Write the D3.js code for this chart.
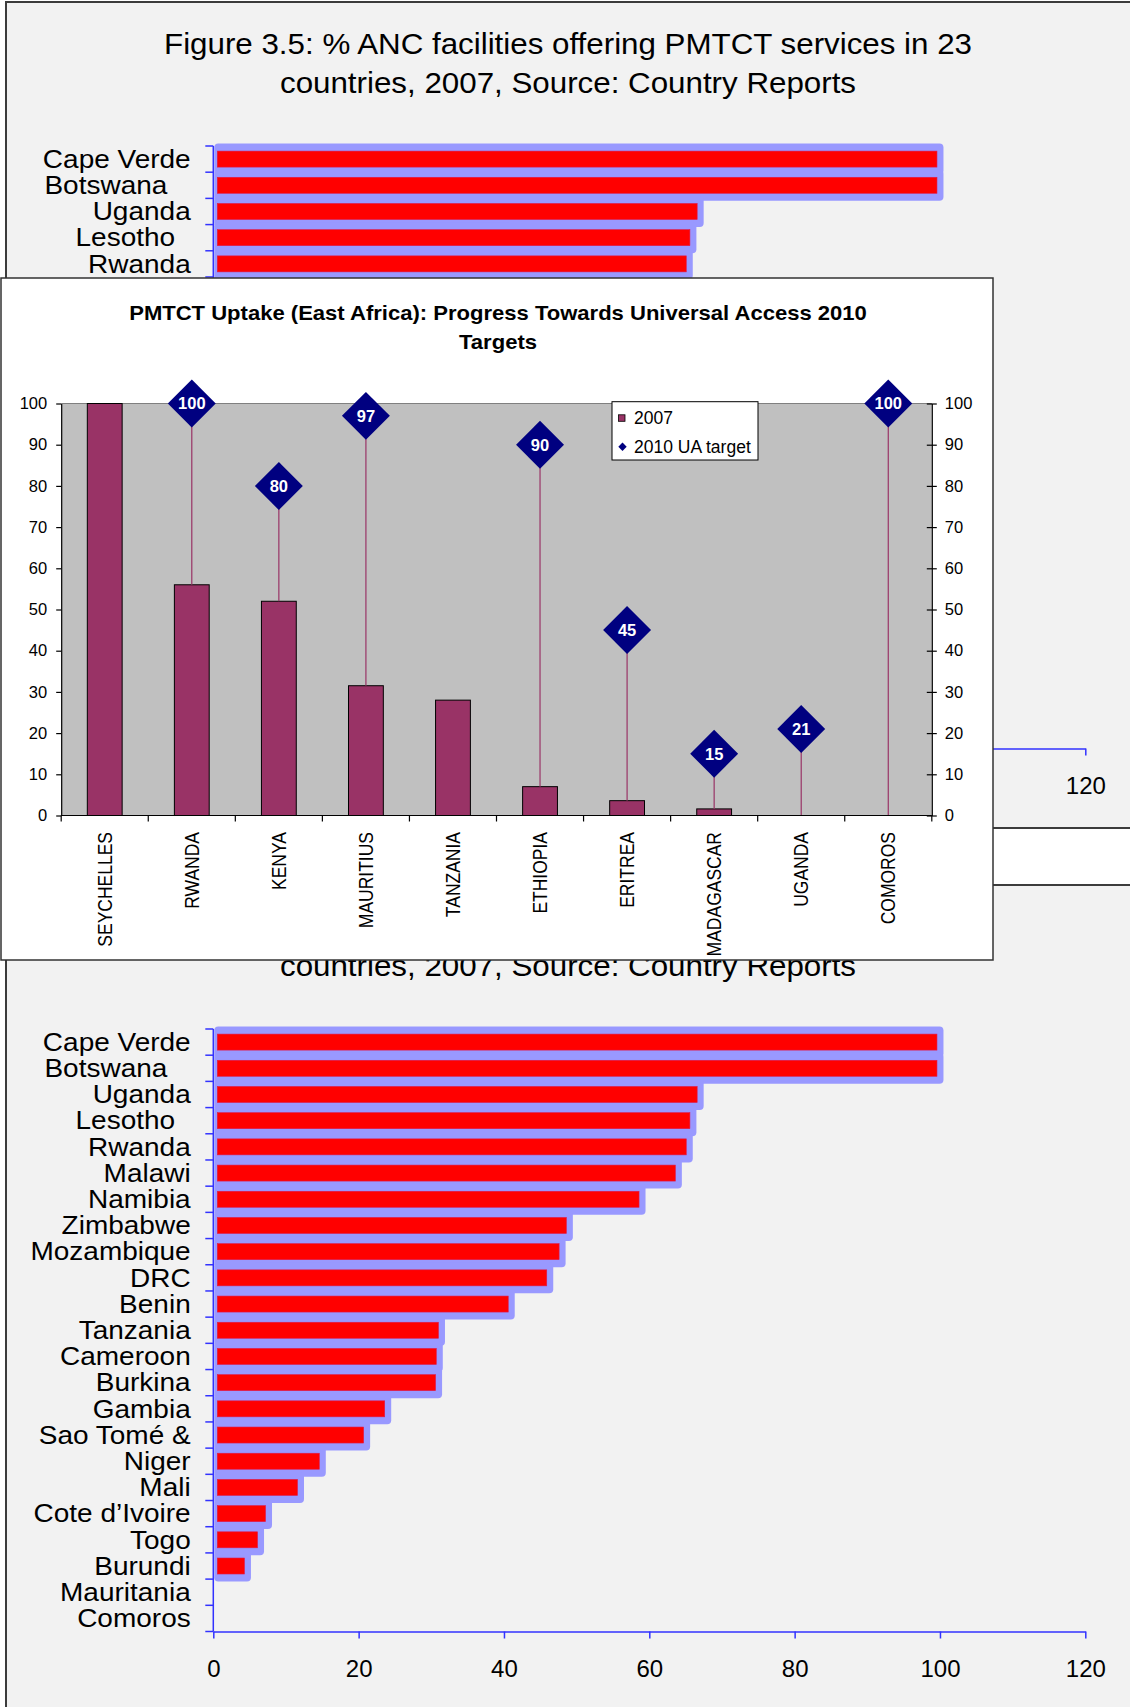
<!DOCTYPE html>
<html>
<head>
<meta charset="utf-8">
<script src="https://cdn.jsdelivr.net/npm/d3@7"></script>
<style>
  body { margin: 0; background: #fff; }
  svg { display: block; font-family: "Liberation Sans", Arial, sans-serif; }
</style>
</head>
<body>
<div id="chart"></div>
<script>
// Figure 3.5 (slide chart, the slide shows up twice behind the East Africa chart)
var figTitle = ["Figure 3.5: % ANC facilities offering PMTCT services in 23",
                "countries, 2007, Source: Country Reports"];
var ancCountries = ["Cape Verde", "Botswana\u00a0\u00a0\u00a0", "Uganda", "Lesotho\u00a0\u00a0", "Rwanda",
                    "Malawi", "Namibia", "Zimbabwe", "Mozambique", "DRC", "Benin", "Tanzania",
                    "Cameroon", "Burkina", "Gambia", "Sao Tomé &", "Niger", "Mali",
                    "Cote d\u2019Ivoire", "Togo", "Burundi", "Mauritania", "Comoros"];
var ancValues = [100, 100, 67, 66, 65.5, 64, 59, 49, 48, 46.3, 41, 31.4,
                 31.1, 31, 24, 21.1, 15, 12, 7.6, 6.5, 4.7, 0, 0];
var ancTicks = [0, 20, 40, 60, 80, 100, 120];

// PMTCT uptake, East Africa
var eaTitle = ["PMTCT Uptake (East Africa): Progress Towards Universal Access 2010", "Targets"];
var eaCountries = ["SEYCHELLES", "RWANDA", "KENYA", "MAURITIUS", "TANZANIA",
                   "ETHIOPIA", "ERITREA", "MADAGASCAR", "UGANDA", "COMOROS"];
var uptake2007 = [100, 56, 52, 31.5, 28, 7, 3.6, 1.6, 0, 0];
var target2010 = [null, 100, 80, 97, null, 90, 45, 15, 21, 100];
var eaTicks = [0, 10, 20, 30, 40, 50, 60, 70, 80, 90, 100];
var legendLabels = ["2007", "2010 UA target"];

var W = 1130, H = 1707;
var svg = d3.select("#chart").append("svg").attr("width", W).attr("height", H);

var axisBlue = "#3232ff";
// the pasted East Africa chart covers this area
var cover = {x0: 1, y0: 278, x1: 993, y1: 960};

// true if a text with this page-space box is not completely under the cover
function shows(left, top, right, bottom) {
  return left < cover.x0 || right > cover.x1 || top < cover.y0 || bottom > cover.y1;
}

function drawSlide(offsetY) {
  var g = svg.append("g").attr("transform", "translate(0," + offsetY + ")");

  g.append("rect")
      .attr("x", 6).attr("y", 2).attr("width", 1200).attr("height", 826)
      .attr("fill", "#f2f2f2").attr("stroke", "#3c3c3c").attr("stroke-width", 2);

  figTitle.forEach(function(t, i) {
    var by = 54 + i * 38.5;
    if (!shows(160, offsetY + by - 22, 976, offsetY + by + 6)) return;
    g.append("text")
        .attr("transform", "translate(568," + by + ") scale(1.08,1)")
        .attr("text-anchor", "middle")
        .style("font-size", "29px")
        .text(t);
  });

  var x = d3.scaleLinear().domain([0, 120]).range([213.3, 1085.3]);
  var y = d3.scaleBand().domain(d3.range(ancCountries.length)).range([146, 748.5]);
  var bh = 16;
  var bars = ancValues.map(function(v, i) { return {v: v, i: i}; })
      .filter(function(d) { return d.v > 0; });

  // lavender frame behind each bar
  g.append("g").selectAll("rect")
      .data(bars)
    .enter().append("rect")
      .attr("x", x(0) + 1)
      .attr("y", function(d) { return y(d.i) + y.bandwidth() / 2 - bh / 2 - 7.5; })
      .attr("width", function(d) { return x(d.v) + 3.5 - x(0) - 1; })
      .attr("height", bh + 15)
      .attr("rx", 4)
      .attr("fill", "#9999ff");

  g.append("g").selectAll("rect")
      .data(bars)
    .enter().append("rect")
      .attr("x", x(0) + 4)
      .attr("y", function(d) { return y(d.i) + y.bandwidth() / 2 - bh / 2; })
      .attr("width", function(d) { return x(d.v) - 3 - x(0) - 4; })
      .attr("height", bh)
      .attr("fill", "#ff0000")
      .attr("stroke", "#e0184a").attr("stroke-width", 0.6);

  // category axis
  g.append("line")
      .attr("x1", x(0)).attr("x2", x(0))
      .attr("y1", y.range()[0]).attr("y2", y.range()[1])
      .attr("stroke", axisBlue).attr("stroke-width", 1.5);
  g.append("g").selectAll("line")
      .data(d3.range(ancCountries.length + 1))
    .enter().append("line")
      .attr("x1", x(0) - 8).attr("x2", x(0))
      .attr("y1", function(i) { return y.range()[0] + i * y.step(); })
      .attr("y2", function(i) { return y.range()[0] + i * y.step(); })
      .attr("stroke", axisBlue).attr("stroke-width", 1.5);

  g.append("g").selectAll("text")
      .data(ancCountries.map(function(c, i) { return {c: c, i: i}; }).filter(function(d) {
        var cy = offsetY + y(d.i) + y.bandwidth() / 2;
        return shows(30, cy - 12, 191, cy + 12);
      }))
    .enter().append("text")
      .attr("transform", function(d) {
        return "translate(190.7," + (y(d.i) + y.bandwidth() / 2) + ") scale(1.12,1)";
      })
      .attr("text-anchor", "end")
      .attr("dy", "0.35em")
      .style("font-size", "25px")
      .style("white-space", "pre")
      .text(function(d) { return d.c; });

  // value axis
  var xAxis = g.append("g")
      .attr("transform", "translate(0," + y.range()[1] + ")")
      .call(d3.axisBottom(x).tickValues(ancTicks).tickSize(7).tickSizeOuter(0).tickPadding(21));
  xAxis.select(".domain").attr("stroke", axisBlue).attr("stroke-width", 1.5);
  xAxis.selectAll(".tick line").attr("stroke", axisBlue).attr("stroke-width", 1.5);
  xAxis.selectAll(".tick text")
      .attr("fill", "#000")
      .style("font-size", "24px")
      .style("font-family", "\"Liberation Sans\", Arial, sans-serif")
      .filter(function(v) {
        var ly = offsetY + y.range()[1] + 28;
        return !shows(x(v) - 20, ly, x(v) + 20, ly + 18);
      })
      .remove();
}

drawSlide(0);
drawSlide(883);

// ---- East Africa chart, pasted over the slides ----
var box = svg.append("g");
box.append("rect")
    .attr("x", cover.x0).attr("y", cover.y0)
    .attr("width", cover.x1 - cover.x0).attr("height", cover.y1 - cover.y0)
    .attr("fill", "#fff").attr("stroke", "#333").attr("stroke-width", 1.5);

eaTitle.forEach(function(t, i) {
  box.append("text")
      .attr("transform", "translate(498," + (319.5 + i * 29) + ") scale(1.05,1)")
      .attr("text-anchor", "middle")
      .style("font-size", "21px").style("font-weight", "bold")
      .text(t);
});

var ex = d3.scaleBand().domain(eaCountries).range([61.2, 931.8]);
var ey = d3.scaleLinear().domain([0, 100]).range([815.5, 403.5]);
var plum = "#993366", navy = "#000080";

box.append("rect")
    .attr("x", ex.range()[0]).attr("y", ey(100))
    .attr("width", ex.range()[1] - ex.range()[0]).attr("height", ey(0) - ey(100))
    .attr("fill", "#c0c0c0");
box.append("line")
    .attr("x1", ex.range()[0]).attr("x2", ex.range()[1])
    .attr("y1", ey(100)).attr("y2", ey(100))
    .attr("stroke", "#808080").attr("stroke-width", 1.2);

var bw = ex.bandwidth() * 0.4;
box.append("g").selectAll("rect")
    .data(eaCountries)
  .enter().append("rect")
    .attr("x", function(d) { return ex(d) + ex.bandwidth() / 2 - bw / 2; })
    .attr("y", function(d, i) { return ey(uptake2007[i]); })
    .attr("width", bw)
    .attr("height", function(d, i) { return ey(0) - ey(uptake2007[i]); })
    .attr("fill", plum)
    .attr("stroke", function(d, i) { return uptake2007[i] > 0 ? "#000" : "none"; })
    .attr("stroke-width", 1);

// drop lines from 2007 bar to the 2010 target
var tgt = eaCountries.map(function(c, i) { return {c: c, v: target2010[i], u: uptake2007[i]}; })
    .filter(function(d) { return d.v != null; });
box.append("g").selectAll("line")
    .data(tgt)
  .enter().append("line")
    .attr("x1", function(d) { return ex(d.c) + ex.bandwidth() / 2; })
    .attr("x2", function(d) { return ex(d.c) + ex.bandwidth() / 2; })
    .attr("y1", function(d) { return ey(d.u); })
    .attr("y2", function(d) { return ey(d.v); })
    .attr("stroke", plum).attr("stroke-width", 1.2);

// axes
var leftAxis = box.append("g")
    .attr("transform", "translate(" + ex.range()[0] + ",0)")
    .call(d3.axisLeft(ey).tickValues(eaTicks).tickSize(5).tickPadding(9).tickSizeOuter(0));
var rightAxis = box.append("g")
    .attr("transform", "translate(" + ex.range()[1] + ",0)")
    .call(d3.axisRight(ey).tickValues(eaTicks).tickSize(5).tickPadding(8).tickSizeOuter(0));
rightAxis.selectAll(".tick line").attr("x1", -5);
[leftAxis, rightAxis].forEach(function(a) {
  a.select(".domain").attr("stroke", "#000").attr("stroke-width", 1.2);
  a.selectAll(".tick line").attr("stroke", "#000").attr("stroke-width", 1.2);
  a.selectAll(".tick text")
      .attr("fill", "#000")
      .style("font-size", "16.5px")
      .style("font-family", "\"Liberation Sans\", Arial, sans-serif");
});

box.append("line")
    .attr("x1", ex.range()[0]).attr("x2", ex.range()[1])
    .attr("y1", ey(0)).attr("y2", ey(0))
    .attr("stroke", "#000").attr("stroke-width", 1.2);
box.append("g").selectAll("line")
    .data(d3.range(eaCountries.length + 1))
  .enter().append("line")
    .attr("x1", function(i) { return ex.range()[0] + i * ex.step(); })
    .attr("x2", function(i) { return ex.range()[0] + i * ex.step(); })
    .attr("y1", ey(0)).attr("y2", ey(0) + 6)
    .attr("stroke", "#000").attr("stroke-width", 1.2);

box.append("g").selectAll("text")
    .data(eaCountries)
  .enter().append("text")
    .attr("transform", function(d) {
      return "translate(" + (ex(d) + ex.bandwidth() / 2) + ",832) rotate(-90) scale(1,1.15)";
    })
    .attr("text-anchor", "end")
    .attr("dy", "0.35em")
    .style("font-size", "17.5px")
    .text(function(d) { return d; });

// target diamonds
var diamond = d3.symbol(d3.symbolSquare, 1150);
var marks = box.append("g").selectAll("g")
    .data(tgt)
  .enter().append("g")
    .attr("transform", function(d) {
      return "translate(" + (ex(d.c) + ex.bandwidth() / 2) + "," + ey(d.v) + ")";
    });
marks.append("path")
    .attr("d", diamond)
    .attr("transform", "rotate(45)")
    .attr("fill", navy);
marks.append("text")
    .attr("text-anchor", "middle")
    .attr("dy", "0.36em")
    .attr("fill", "#fff")
    .style("font-size", "16.5px").style("font-weight", "bold")
    .text(function(d) { return d.v; });

// legend
var lg = box.append("g");
lg.append("rect")
    .attr("x", 612).attr("y", 401.7).attr("width", 146).attr("height", 58.3)
    .attr("fill", "#fff").attr("stroke", "#000").attr("stroke-width", 1);
lg.append("rect")
    .attr("x", 618.5).attr("y", 414.8).attr("width", 6.5).attr("height", 6.5)
    .attr("fill", plum).attr("stroke", "#000").attr("stroke-width", 0.8);
lg.append("path")
    .attr("d", d3.symbol(d3.symbolSquare, 35))
    .attr("transform", "translate(622.5,446.7) rotate(45)")
    .attr("fill", navy);
legendLabels.forEach(function(t, i) {
  lg.append("text")
      .attr("x", 634).attr("y", 424.3 + i * 28.2)
      .style("font-size", "17.5px")
      .text(t);
});
</script>
</body>
</html>
